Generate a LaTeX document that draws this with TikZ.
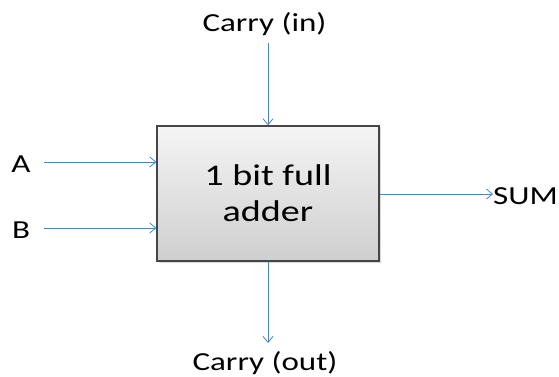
\documentclass[tikz,border=0pt]{standalone}
\usepackage{fontspec}
\setmainfont{Carlito}[FakeStretch=1.27]
\usetikzlibrary{arrows.meta,shadows}
\definecolor{arrowblue}{RGB}{79,129,189}
\tikzset{
  conn/.style={draw=arrowblue, line width=0.9pt, -{Straight Barb[length=6pt,width=10pt,line width=0.8pt]}},
  lbl/.style={font=\fontsize{26}{30}\selectfont, inner sep=0pt, anchor=base},
  adder/.style={draw={rgb,255:red,70;green,70;blue,70}, line width=1.3pt, top color=gray!8, bottom color=gray!38,
     minimum width=222pt, minimum height=135pt, inner sep=0pt, align=center,
     font=\fontsize{30}{36}\selectfont, drop shadow={shadow xshift=1.5pt, shadow yshift=-1.5pt, opacity=0.3}}
}
\begin{document}
\begin{tikzpicture}[x=1pt,y=-1pt]
\useasboundingbox (0,0) rectangle (559,377);
\node[adder] (box) at (268,193.5) {1 bit full\\adder};
\node[lbl] (cin) at (264.5,32) {Carry (in)};
\node[lbl] (cout) at (265,370) {Carry (out)};
\node[lbl] (a) at (21,172) {A};
\node[lbl] (b) at (21,238) {B};
\node[lbl, anchor=base west] (sum) at (493,204) {SUM};
\coordinate (cinS) at (268,43);
\coordinate (coutE) at (268,343);
\coordinate (aS) at (44,162);
\coordinate (bS) at (44,228);
\draw[conn] (cinS) -- (cinS |- box.north);
\draw[conn] (coutE |- box.south) -- (coutE);
\draw[conn] (aS) -- (aS -| box.west);
\draw[conn] (bS) -- (bS -| box.west);
\draw[conn] (box.east |- 0,194) -- (sum.west |- 0,194);
\end{tikzpicture}
\end{document}
